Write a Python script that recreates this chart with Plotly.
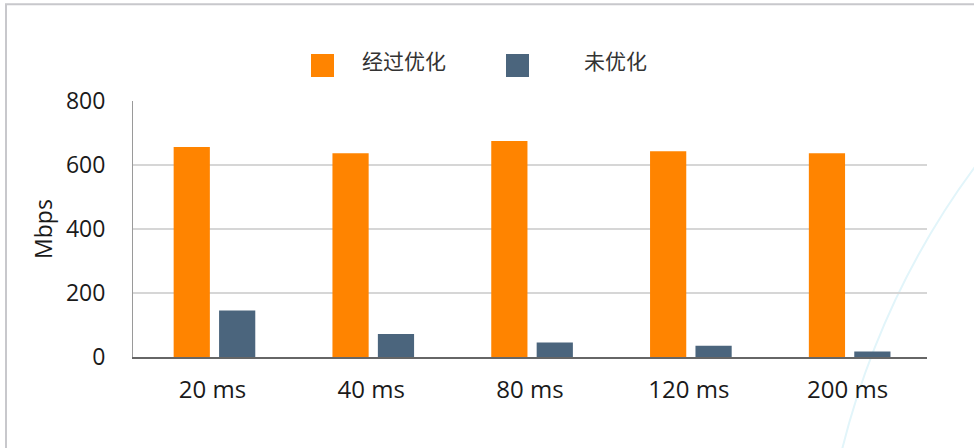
import plotly.graph_objects as go

categories = ["20 ms", "40 ms", "80 ms", "120 ms", "200 ms"]
series_names = ["经过优化", "未优化"]
optimized = [656, 637, 675, 643, 637]
unoptimized = [145, 72, 45, 35, 17]
y_ticks = [0, 200, 400, 600, 800]

colors = ["#FF8400", "#4B657D"]
bar_offsets = [-0.244, 0.042]
bar_width = 0.228

W, H = 974, 448
ML, MR, MT, MB = 133, 47, 101, 91
PW, PH = W - ML - MR, H - MT - MB


def px_x(p):
    return (p - ML) / PW


def px_y(p):
    return (H - MB - p) / PH


FONT = "Open Sans, Noto Sans CJK SC, sans-serif"

fig = go.Figure()
for name, vals, col, off in zip(series_names, [optimized, unoptimized], colors, bar_offsets):
    fig.add_trace(go.Bar(x=categories, y=vals, name=name, marker=dict(color=col, line=dict(width=0)),
                         offset=off, width=bar_width, showlegend=False))

shapes = [
    # card border
    dict(type="rect", xref="paper", yref="paper", x0=px_x(6), x1=px_x(1200), y0=px_y(700), y1=px_y(4.3),
         line=dict(color="#C8C8CC", width=2), fillcolor="rgba(0,0,0,0)", layer="below"),
    # decorative arc
    dict(type="circle", xref="paper", yref="paper", x0=px_x(819), x1=px_x(2409), y0=px_y(1435), y1=px_y(-155),
         line=dict(color="#E2F5FA", width=2), fillcolor="rgba(0,0,0,0)", layer="below"),
]
annotations = []
leg_sq = [(311, 334), (506, 529)]
leg_tx = [360, 582]
for (a, b), tx, name, col in zip(leg_sq, leg_tx, series_names, colors):
    shapes.append(dict(type="rect", xref="paper", yref="paper", x0=px_x(a), x1=px_x(b), y0=px_y(77), y1=px_y(54),
                       line=dict(width=0), fillcolor=col))
    annotations.append(dict(xref="paper", yref="paper", x=px_x(tx), y=px_y(61), text=name, showarrow=False,
                            xanchor="left", yanchor="middle", font=dict(family=FONT, size=21, color="#333333")))

fig.update_layout(
    width=W, height=H,
    margin=dict(l=ML, r=MR, t=MT, b=MB),
    paper_bgcolor="white", plot_bgcolor="rgba(0,0,0,0)",
    barmode="group",
    font=dict(family=FONT, size=24, color="#1A1A1A"),
    shapes=shapes, annotations=annotations,
    showlegend=False,
)
fig.update_xaxes(showline=True, linecolor="#666666", linewidth=2, showgrid=False, ticks="",
                 ticklabelstandoff=10, tickfont=dict(size=24))
fig.update_yaxes(range=[0, 800], tickvals=y_ticks, showline=True, linecolor="#9A9A9A", linewidth=1,
                 showgrid=True, gridcolor="#D6D6D6", gridwidth=2, zeroline=False, ticks="",
                 ticklabelstandoff=22, tickfont=dict(size=23),
                 title=dict(text="Mbps", font=dict(size=23), standoff=6))

fig.write_html("out.html")
